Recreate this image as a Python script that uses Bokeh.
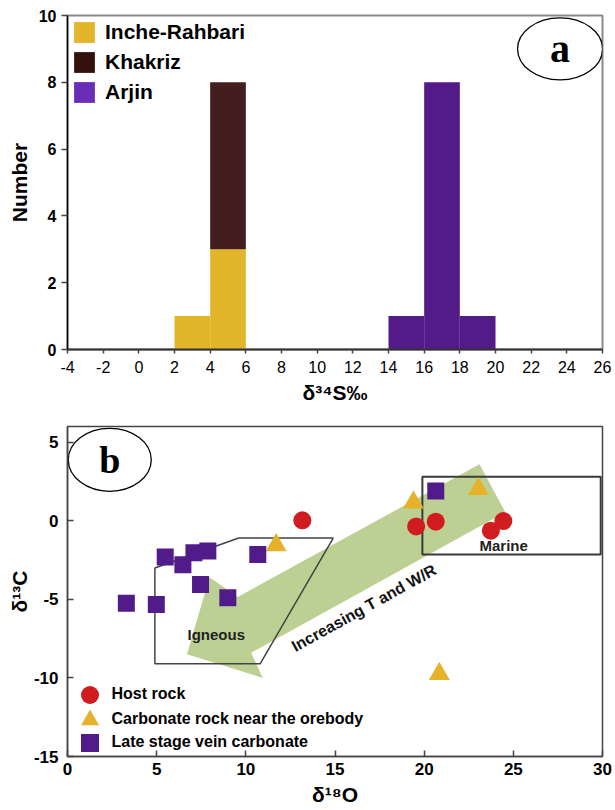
from bokeh.plotting import figure
from bokeh.layouts import column
from bokeh.models import (Range1d, FixedTicker, Legend, LegendItem, CustomJSTickFormatter)
from bokeh.core.properties import value
from bokeh.embed import file_html
from bokeh.resources import INLINE

# ---------------- panel (a) data: delta34S histogram ----------------
bin_width = 2
inche_left = [2, 4]
inche_count = [1, 3]
khakriz_left = [4]
khakriz_count = [5]
arjin_left = [14, 16, 18]
arjin_count = [1, 8, 1]
series_a = ["Inche-Rahbari", "Khakriz", "Arjin"]
x_ticks_a = [-4, -2, 0, 2, 4, 6, 8, 10, 12, 14, 16, 18, 20, 22, 24, 26]
y_ticks_a = [0, 2, 4, 6, 8, 10]

# ---------------- panel (b) data: d18O vs d13C ----------------
host_d18O = [13.17, 19.55, 20.65, 23.74, 24.44]
host_d13C = [0.03, -0.36, -0.06, -0.63, -0.02]
carb_d18O = [11.70, 19.40, 23.04, 20.85]
carb_d13C = [-1.55, 1.16, 2.02, -9.74]
vein_d18O = [3.30, 4.98, 5.48, 6.47, 7.09, 7.87, 7.46, 8.99, 10.67, 20.65]
vein_d13C = [-5.25, -5.33, -2.31, -2.80, -2.04, -1.93, -4.06, -4.90, -2.14, 1.90]
series_b = ["Host rock", "Carbonate rock near the orebody", "Late stage vein carbonate"]
igneous_d18O = [4.9, 4.9, 10.8, 14.9, 9.6]
igneous_d13C = [-3.0, -9.1, -9.1, -1.1, -1.1]
marine_d18O = [19.9, 29.9]
marine_d13C = [-2.15, 2.8]
arrow_d18O = [23.1, 24.55, 10.3, 10.95, 6.7, 7.96, 9.55]
arrow_d13C = [3.6, 0.55, -8.4, -10.0, -8.5, -3.6, -4.85]
x_ticks_b = [0, 5, 10, 15, 20, 25, 30]
y_ticks_b = [-15, -10, -5, 0, 5]

# ---------------- colours ----------------
YEL = "#E3B52A"
KH_BAR = "#441E1E"
KH_LEG = "#33120E"
AR_BAR = "#521B88"
AR_LEG = "#6A2DB7"
RED = "#D11C1F"
TRI = "#E5B22A"
SQ = "#521B8A"
GREEN = "#BDD094"
FONT = "Liberation Sans"

hyphen_fmt = CustomJSTickFormatter(code="return tick.toString();")

# ================= panel (a) =================
p1 = figure(width=615, height=410, x_range=Range1d(-4, 26), y_range=Range1d(0, 10),
            output_backend="svg", toolbar_location=None,
            min_border_left=67, min_border_right=13, min_border_top=15, min_border_bottom=61)
p1.grid.visible = False
p1.outline_line_color = "#8a8a8a"
p1.outline_line_width = 2

p1.quad(left=inche_left, right=[l + bin_width for l in inche_left],
        bottom=[0] * len(inche_left), top=inche_count, fill_color=YEL, line_color=None)
kh_bottom = [inche_count[inche_left.index(l)] if l in inche_left else 0 for l in khakriz_left]
p1.quad(left=khakriz_left, right=[l + bin_width for l in khakriz_left],
        bottom=kh_bottom, top=[b + c for b, c in zip(kh_bottom, khakriz_count)],
        fill_color=KH_BAR, line_color=None)
p1.quad(left=arjin_left, right=[l + bin_width for l in arjin_left],
        bottom=[0] * len(arjin_left), top=arjin_count, fill_color=AR_BAR, line_color=None)

# legend swatches (not drawn in the plot: NaN coordinates)
nan = float("nan")
leg_renderers = []
for col in [YEL, KH_LEG, AR_LEG]:
    r = p1.quad(left=[nan], right=[nan], bottom=[nan], top=[nan], fill_color=col, line_color=None)
    leg_renderers.append(r)
leg1 = Legend(items=[LegendItem(label=n, renderers=[r]) for n, r in zip(series_a, leg_renderers)],
              location="top_left", margin=4, padding=0, spacing=4,
              glyph_width=26, glyph_height=26, label_standoff=8,
              label_text_font=FONT, label_text_font_style="bold", label_text_font_size="21px",
              label_text_color="black", border_line_color=None, background_fill_alpha=0)
p1.add_layout(leg1)

p1.ellipse(x=[23.62], y=[9.0], width=85, height=62, width_units="screen", height_units="screen",
           fill_color="white", line_color="black", line_width=1.3)
p1.text(x=[23.62], y=[9.0], text=["a"], text_font=value("Liberation Serif"), text_font_style="bold",
        text_font_size="40px", text_align="center", text_baseline="middle", text_color="black")

p1.xaxis.ticker = FixedTicker(ticks=x_ticks_a)
p1.yaxis.ticker = FixedTicker(ticks=y_ticks_a)
for ax in (p1.xaxis, p1.yaxis):
    ax.formatter = hyphen_fmt
    ax.minor_tick_line_color = None
    ax.major_tick_in = 0
    ax.major_tick_line_color = "#444444"
    ax.major_tick_line_width = 1.5
    ax.major_label_text_font = FONT
    ax.major_label_text_color = "black"
    ax.major_label_text_font_size = "16px"
    ax.axis_label_text_font = FONT
    ax.axis_label_text_font_style = "bold"
    ax.axis_label_text_font_size = "21px"
    ax.axis_label_text_color = "black"
p1.xaxis.major_tick_out = 4
p1.yaxis.major_tick_out = 6
p1.xaxis.axis_line_color = "#333333"
p1.xaxis.axis_line_width = 2
p1.yaxis.axis_line_color = "black"
p1.yaxis.axis_line_width = 1.5
p1.yaxis.major_label_text_font_style = "bold"
p1.xaxis.major_label_text_font_style = "normal"
p1.xaxis.major_label_standoff = 7
p1.yaxis.major_label_standoff = 5
p1.yaxis.axis_label = "Number"
p1.yaxis.axis_label_standoff = 5
p1.xaxis.axis_label = "δ³⁴S‰"
p1.xaxis.axis_label_standoff = 5

# ================= panel (b) =================
p2 = figure(width=615, height=400, x_range=Range1d(0, 30), y_range=Range1d(-15, 6),
            output_backend="svg", toolbar_location=None,
            min_border_left=66, min_border_right=13, min_border_top=16, min_border_bottom=54)
p2.grid.visible = False
p2.outline_line_color = "#444444"
p2.outline_line_width = 1.5

p2.patch(arrow_d18O, arrow_d13C, fill_color=GREEN, line_color=None)
p2.patch(igneous_d18O, igneous_d13C, fill_color=None, line_color="#444444", line_width=1.5)
p2.quad(left=[marine_d18O[0]], right=[marine_d18O[1]], bottom=[marine_d13C[0]], top=[marine_d13C[1]],
        fill_color=None, line_color="#3a3a3a", line_width=2)

p2.text(x=[24.46], y=[-1.59], text=["Marine"], text_font=value(FONT), text_font_style="bold",
        text_font_size="15px", text_align="center", text_baseline="middle", text_color="#222222")
p2.text(x=[8.34], y=[-7.24], text=["Igneous"], text_font=value(FONT), text_font_style="bold",
        text_font_size="15px", text_align="center", text_baseline="middle", text_color="#222222")
p2.text(x=[16.62], y=[-5.55], text=["Increasing T and W/R"], text_font=value(FONT),
        text_font_style="bold", text_font_size="16px", text_align="center", text_baseline="middle",
        text_color="#111111", angle=29, angle_units="deg")

r_host = p2.scatter(host_d18O, host_d13C, marker="circle", size=18, fill_color=RED, line_color=None)
r_carb = p2.scatter(carb_d18O, carb_d13C, marker="triangle", size=21, fill_color=TRI, line_color=None)
r_vein = p2.scatter(vein_d18O, vein_d13C, marker="square", size=17, fill_color=SQ, line_color=None)

p2.ellipse(x=[2.37], y=[3.88], width=83, height=63, width_units="screen", height_units="screen",
           fill_color="white", line_color="black", line_width=1.3)
p2.text(x=[2.37], y=[3.88], text=["b"], text_font=value("Liberation Serif"), text_font_style="bold",
        text_font_size="38px", text_align="center", text_baseline="middle", text_color="black")

# one legend per entry so the rows can sit closer than the 45px glyph box
leg_rows_bottom = [39.2, 14.2, -8.5]
for name, rend, ly in zip(series_b, [r_host, r_carb, r_vein], leg_rows_bottom):
    lg = Legend(items=[LegendItem(label=name, renderers=[rend])],
                location=(-0.5, ly), margin=0, padding=0, spacing=0,
                glyph_width=45, glyph_height=45, label_standoff=0,
                label_text_font=FONT, label_text_font_style="bold", label_text_font_size="16px",
                label_text_color="black", border_line_color=None, background_fill_alpha=0)
    p2.add_layout(lg)

p2.xaxis.ticker = FixedTicker(ticks=x_ticks_b)
p2.yaxis.ticker = FixedTicker(ticks=y_ticks_b)
for ax in (p2.xaxis, p2.yaxis):
    ax.formatter = hyphen_fmt
    ax.minor_tick_line_color = None
    ax.major_tick_in = 6
    ax.major_tick_out = 0
    ax.major_tick_line_color = "#444444"
    ax.major_tick_line_width = 1.5
    ax.axis_line_color = "#444444"
    ax.axis_line_width = 1.5
    ax.major_label_text_font = FONT
    ax.major_label_text_font_style = "bold"
    ax.major_label_text_color = "black"
    ax.major_label_text_font_size = "17px"
    ax.axis_label_text_font = FONT
    ax.axis_label_text_font_style = "bold"
    ax.axis_label_text_font_size = "21px"
    ax.axis_label_text_color = "black"
p2.xaxis.major_label_standoff = 6
p2.yaxis.major_label_standoff = 9
p2.xaxis.axis_label = "δ¹⁸O"
p2.yaxis.axis_label = "δ¹³C"
p2.xaxis.axis_label_standoff = 5
p2.yaxis.axis_label_standoff = 0

layout = column(p1, p2, spacing=0)
open("out.html", "w").write(file_html(layout, INLINE))
